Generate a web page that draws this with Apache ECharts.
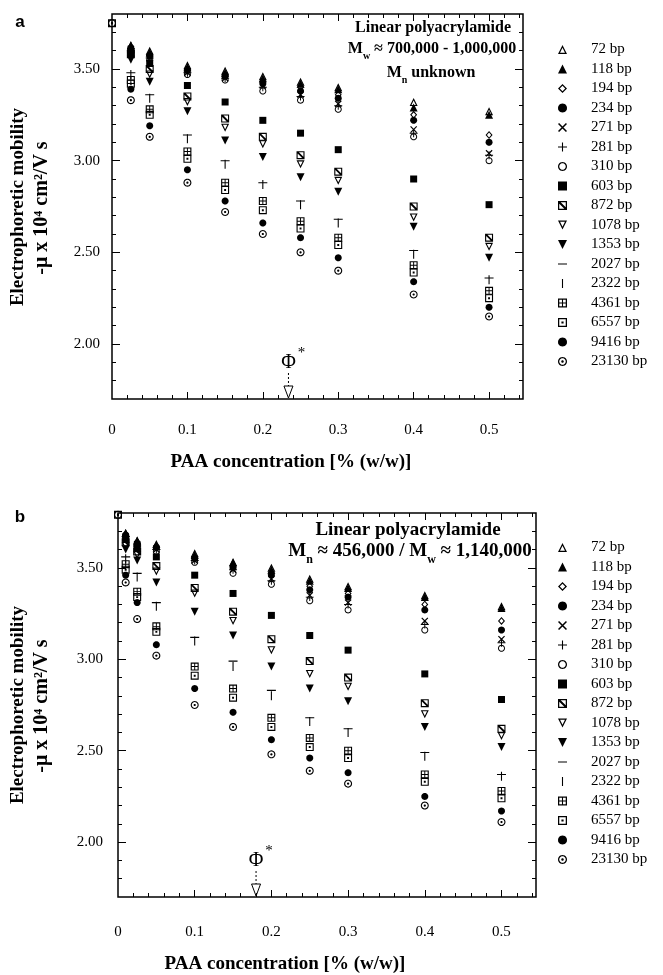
<!DOCTYPE html>
<html><head><meta charset="utf-8">
<script src="https://cdn.jsdelivr.net/npm/echarts@6/dist/echarts.min.js"></script>
<style>html,body{margin:0;padding:0;background:#fff}#c{width:663px;height:975px}</style>
</head><body><div id="c"></div>
<script>
// ---------- DATA ----------
const sizes = ['72 bp','118 bp','194 bp','234 bp','271 bp','281 bp','310 bp','603 bp','872 bp','1078 bp','1353 bp','2027 bp','2322 bp','4361 bp','6557 bp','9416 bp','23130 bp'];
// panel a: PAA concentration (% w/w); null = no visible point
const xA = [0, 0.025, 0.05, 0.1, 0.15, 0.2, 0.25, 0.3, 0.4, 0.5];
const a72    = [null, 3.63, 3.60, 3.52, 3.49, 3.46, 3.43, 3.40, 3.32, 3.27];
const a118   = [null, 3.63, 3.59, 3.51, 3.48, 3.45, 3.42, 3.39, 3.29, 3.25];
const a194   = [null, 3.62, 3.58, 3.50, 3.47, 3.43, 3.40, 3.36, 3.25, 3.14];
const a234   = [null, 3.61, 3.57, 3.49, 3.46, 3.42, 3.38, 3.34, 3.22, 3.10];
const a271   = [null, 3.61, 3.56, 3.48, 3.45, 3.41, 3.36, 3.31, 3.17, 3.04];
const a281   = [null, 3.60, 3.56, 3.48, 3.45, 3.40, 3.35, 3.30, 3.15, 3.03];
const a310   = [null, 3.60, 3.55, 3.47, 3.44, 3.38, 3.33, 3.28, 3.13, 3.00];
const a603   = [null, 3.59, 3.53, 3.41, 3.32, 3.22, 3.15, 3.06, 2.90, 2.76];
const a872   = [null, 3.58, 3.50, 3.35, 3.23, 3.13, 3.03, 2.94, 2.75, 2.58];
const a1078  = [null, 3.57, 3.47, 3.32, 3.18, 3.09, 2.98, 2.89, 2.69, 2.53];
const a1353  = [null, 3.55, 3.43, 3.27, 3.11, 3.02, 2.91, 2.83, 2.64, 2.47];
const a2027  = [null, 3.48, 3.36, 3.14, 3.00, 2.88, 2.78, 2.68, 2.51, 2.36];
const a2322  = [null, 3.47, 3.34, 3.12, 2.98, 2.87, 2.76, 2.66, 2.49, 2.35];
const a4361  = [null, 3.44, 3.28, 3.05, 2.88, 2.78, 2.67, 2.58, 2.43, 2.29];
const a6557  = [3.75, 3.42, 3.25, 3.01, 2.84, 2.73, 2.63, 2.54, 2.39, 2.25];
const a9416  = [null, 3.39, 3.19, 2.95, 2.78, 2.66, 2.58, 2.47, 2.34, 2.20];
const a23130 = [3.75, 3.33, 3.13, 2.88, 2.72, 2.60, 2.50, 2.40, 2.27, 2.15];
// panel b
const xB = [0, 0.01, 0.025, 0.05, 0.1, 0.15, 0.2, 0.25, 0.3, 0.4, 0.5];
const b72    = [null, 3.69, 3.65, 3.63, 3.58, 3.53, 3.50, 3.44, 3.40, 3.35, 3.29];
const b118   = [null, 3.69, 3.65, 3.62, 3.57, 3.53, 3.49, 3.43, 3.39, 3.34, 3.28];
const b194   = [null, 3.68, 3.64, 3.62, 3.56, 3.51, 3.47, 3.40, 3.36, 3.30, 3.21];
const b234   = [null, 3.68, 3.63, 3.61, 3.55, 3.50, 3.46, 3.38, 3.34, 3.27, 3.16];
const b271   = [null, 3.67, 3.63, 3.60, 3.54, 3.49, 3.44, 3.35, 3.31, 3.21, 3.11];
const b281   = [null, 3.67, 3.62, 3.60, 3.54, 3.49, 3.43, 3.34, 3.30, 3.19, 3.09];
const b310   = [null, 3.67, 3.62, 3.59, 3.53, 3.47, 3.41, 3.32, 3.27, 3.16, 3.06];
const b603   = [null, 3.66, 3.61, 3.56, 3.46, 3.36, 3.24, 3.13, 3.05, 2.92, 2.78];
const b872   = [null, 3.64, 3.59, 3.51, 3.39, 3.26, 3.11, 2.99, 2.90, 2.76, 2.62];
const b1078  = [null, 3.62, 3.57, 3.48, 3.36, 3.21, 3.05, 2.92, 2.85, 2.70, 2.58];
const b1353  = [null, 3.60, 3.54, 3.42, 3.26, 3.13, 2.96, 2.84, 2.77, 2.63, 2.52];
const b2027  = [null, 3.56, 3.47, 3.31, 3.12, 2.99, 2.83, 2.68, 2.62, 2.49, 2.37];
const b2322  = [null, 3.55, 3.45, 3.29, 3.10, 2.96, 2.80, 2.66, 2.60, 2.47, 2.36];
const b4361  = [null, 3.52, 3.37, 3.18, 2.96, 2.84, 2.68, 2.57, 2.50, 2.37, 2.28];
const b6557  = [3.79, 3.49, 3.34, 3.15, 2.91, 2.79, 2.63, 2.52, 2.46, 2.33, 2.24];
const b9416  = [null, 3.46, 3.31, 3.08, 2.84, 2.71, 2.56, 2.46, 2.38, 2.25, 2.17];
const b23130 = [3.79, 3.42, 3.22, 3.02, 2.75, 2.63, 2.48, 2.39, 2.32, 2.20, 2.11];
// axes
const xLabels = [0, 0.1, 0.2, 0.3, 0.4, 0.5];
const yLabels = [2.0, 2.5, 3.0, 3.5];
const yMin = 1.7, yMax = 3.8, xMax = 0.545;
const phiA = 0.234, phiB = 0.18;

// ---------- SYMBOLS ----------
function poly(pts){ return 'M' + pts.map(p => p[0].toFixed(2) + ',' + p[1].toFixed(2)).join(' L') + ' Z '; }
function circ(cx, cy, r, rev){ const n = 24, pts = []; for (let i = 0; i < n; i++){ const a = (rev ? -1 : 1) * i * 2 * Math.PI / n; pts.push([cx + r*Math.cos(a), cy + r*Math.sin(a)]); } return poly(pts); }
function sq(x0, y0, x1, y1, rev){ return rev ? poly([[x0,y0],[x0,y1],[x1,y1],[x1,y0]]) : poly([[x0,y0],[x1,y0],[x1,y1],[x0,y1]]); }
const BOX = 'M0,0 L0.01,0 L0,0.01 Z M10,10 L9.99,10 L10,9.99 Z';
const S = {
  triUpO: poly([[5,0],[10,10],[0,10]]) + poly([[5,3.13],[2.27,8.6],[7.74,8.6]]),
  triUp:  poly([[5,0],[10,10],[0,10]]),
  diaO:   poly([[5,0],[10,5],[5,10],[0,5]]) + poly([[5,1.98],[1.98,5],[5,8.02],[8.02,5]]),
  dot:    circ(5,5,5),
  cross:  poly([[0,1.2],[1.2,0],[10,8.8],[8.8,10]]) + poly([[8.8,0],[10,1.2],[1.2,10],[0,8.8]]),
  plus:   poly([[4.4,0],[5.6,0],[5.6,10],[4.4,10]]) + poly([[0,4.4],[10,4.4],[10,5.6],[0,5.6]]),
  circO:  circ(5,5,5) + circ(5,5,3.6,true),
  sqF:    sq(0,0,10,10),
  sqDiag: sq(0,0,10,10) + sq(1.4,1.4,8.6,8.6,true) + poly([[1.4,1.4],[3,1.4],[8.6,7],[8.6,8.6],[7,8.6],[1.4,3]]),
  triDnO: poly([[0,0],[10,0],[5,10]]) + poly([[2.27,1.4],[5,6.87],[7.74,1.4]]),
  triDn:  poly([[0,0],[10,0],[5,10]]),
  hbar:   poly([[0,4.4],[10,4.4],[10,5.6],[0,5.6]]) + BOX,
  vbar:   poly([[4.4,0],[5.6,0],[5.6,10],[4.4,10]]) + BOX,
  sqGrid: sq(0,0,10,10) + sq(1.4,1.4,4.4,4.4,true) + sq(5.6,1.4,8.6,4.4,true) + sq(1.4,5.6,4.4,8.6,true) + sq(5.6,5.6,8.6,8.6,true),
  sqDot:  sq(0,0,10,10) + sq(1.4,1.4,8.6,8.6,true) + sq(3.8,3.8,6.2,6.2),
  circDot: circ(5,5,5) + circ(5,5,3.6,true) + circ(5,5,1.4)
};
const style = [
  ['triUpO', 8], ['triUp', 8], ['diaO', [7,8]], ['dot', 7], ['cross', 7], ['plus', 8], ['circO', 7],
  ['sqF', 7], ['sqDiag', 8], ['triDnO', 8], ['triDn', 8], ['hbar', 9], ['vbar', 9], ['sqGrid', 8],
  ['sqDot', 8], ['dot', 7], ['circDot', 8]
];
const dataA = [a72,a118,a194,a234,a271,a281,a310,a603,a872,a1078,a1353,a2027,a2322,a4361,a6557,a9416,a23130];
const dataB = [b72,b118,b194,b234,b271,b281,b310,b603,b872,b1078,b1353,b2027,b2322,b4361,b6557,b9416,b23130];

// ---------- CHART ----------
const SERIF = '"Liberation Serif", "Times New Roman", serif';
const grids = [
  {left: 112, top: 14, width: 411, height: 385},
  {left: 118, top: 513, width: 418, height: 384}
];
const xMajor = xLabels.slice(1);
const xMinor = []; for (let k = 1; k * 0.02 < xMax; k++) { if (k % 5) xMinor.push(+(k * 0.02).toFixed(2)); }
const yMinor = []; for (let k = Math.round(yMin*10) + 1; k < Math.round(yMax*10); k++) { if (k % 5) yMinor.push(k / 10); }

function tick(vals, len){ return {show: true, inside: true, length: len, customValues: vals, lineStyle: {color: '#000', width: 1}}; }
const xAxes = [], yAxes = [];
grids.forEach((g, gi) => {
  const cx = {gridIndex: gi, type: 'value', min: 0, max: xMax, axisLine: {show: false, onZero: false}, splitLine: {show: false}};
  const cy = {gridIndex: gi, type: 'value', min: yMin, max: yMax, axisLine: {show: false, onZero: false}, splitLine: {show: false}};
  xAxes.push(
    Object.assign({}, cx, {position: 'bottom', axisTick: tick(xMajor, 7),
      axisLabel: {show: true, customValues: xLabels, formatter: v => String(+(+v).toFixed(2)), margin: gi ? 28 : 24, color: '#000', fontFamily: SERIF, fontSize: 15}}),
    Object.assign({}, cx, {position: 'bottom', axisTick: tick(xMinor, 4), axisLabel: {show: false}}),
    Object.assign({}, cx, {position: 'top', axisTick: tick(xMajor, 7), axisLabel: {show: false}}),
    Object.assign({}, cx, {position: 'top', axisTick: tick(xMinor, 4), axisLabel: {show: false}})
  );
  yAxes.push(
    Object.assign({}, cy, {position: 'left', axisTick: tick(yLabels, 8),
      axisLabel: {show: true, customValues: yLabels, formatter: v => (+v).toFixed(2), margin: gi ? 15 : 12, color: '#000', fontFamily: SERIF, fontSize: 15}}),
    Object.assign({}, cy, {position: 'left', axisTick: tick(yMinor, 4), axisLabel: {show: false}}),
    Object.assign({}, cy, {position: 'right', axisTick: tick(yLabels, 8), axisLabel: {show: false}}),
    Object.assign({}, cy, {position: 'right', axisTick: tick(yMinor, 4), axisLabel: {show: false}})
  );
});

const series = [];
[[xA, dataA, 0], [xB, dataB, 1]].forEach(([xs, ds, gi]) => {
  sizes.forEach((name, i) => {
    series.push({
      type: 'scatter', name: name, xAxisIndex: gi * 4, yAxisIndex: gi * 4,
      data: xs.map((x, j) => ds[i][j] == null ? null : [x, ds[i][j]]).filter(d => d),
      symbol: 'path://' + S[style[i][0]], symbolSize: style[i][1],
      itemStyle: {color: '#000', opacity: 1}, clip: false, silent: true,
      emphasis: {disabled: true}
    });
  });
});

const legendCommon = {
  orient: 'vertical', left: 558, itemWidth: 9, itemHeight: 9, itemGap: 4.5, padding: 0,
  selectedMode: false, data: sizes, inactiveColor: '#000',
  textStyle: {fontFamily: SERIF, fontSize: 15, lineHeight: 14, color: '#000', padding: [0, 0, 0, 19]}
};

const chart = echarts.init(document.getElementById('c'), null, {renderer: 'canvas'});
chart.setOption({
  animation: false,
  backgroundColor: '#fff',
  grid: grids.map(g => Object.assign({show: true, borderColor: '#000', borderWidth: 1.5, backgroundColor: 'transparent', containLabel: false}, g)),
  xAxis: xAxes, yAxis: yAxes, series: series,
  legend: [Object.assign({top: 42}, legendCommon), Object.assign({top: 540}, legendCommon)],
  tooltip: {show: false}
});

// ---------- ANNOTATIONS ----------
function txt(x, y, text, font, extra){
  return Object.assign({type: 'text', x: x, y: y, silent: true, style: {text: text, font: font, fill: '#000', align: 'center', textAlign: 'center', verticalAlign: 'middle', textVerticalAlign: 'middle'}}, extra || {});
}
function richTxt(x, y, text, size){
  return {type: 'text', x: x, y: y, silent: true, style: {
    text: text, fill: '#000', align: 'center', textAlign: 'center', verticalAlign: 'middle', textVerticalAlign: 'middle',
    font: 'bold ' + size + 'px ' + SERIF,
    rich: {
      t: {fontFamily: SERIF, fontWeight: 'bold', fontSize: size, lineHeight: size + 2, verticalAlign: 'top', fill: '#000'},
      s: {fontFamily: SERIF, fontWeight: 'bold', fontSize: Math.round(size * 0.65), lineHeight: Math.round(size * 0.65), verticalAlign: 'top', padding: [Math.round(size * 0.62), 0, 0, 0], fill: '#000'}
    }}};
}
function phiMark(gi, val){
  const p = chart.convertToPixel({gridIndex: gi}, [val, yMin]);
  const px = p[0], py = p[1];
  return [
    txt(px, py - 36, 'Φ', '20px ' + SERIF),
    txt(px + 13, py - 46, '*', '15px ' + SERIF),
    {type: 'line', silent: true, shape: {x1: px, y1: py - 26, x2: px, y2: py - 13}, style: {stroke: '#000', lineWidth: 1, lineDash: [2, 2]}},
    {type: 'polygon', silent: true, shape: {points: [[px - 4.5, py - 13], [px + 4.5, py - 13], [px, py - 1]]}, style: {fill: '#fff', stroke: '#000', lineWidth: 1}}
  ];
}
const titleFont = 'bold 19px ' + SERIF;
const subTitleFont = 'bold 20px ' + SERIF;
const graphics = [
  txt(20, 22, 'a', 'bold 17px "Liberation Sans", Arial, sans-serif'),
  txt(20, 517, 'b', 'bold 17px "Liberation Sans", Arial, sans-serif'),
  txt(18, 207, 'Electrophoretic mobility', titleFont, {rotation: Math.PI / 2}),
  txt(42, 208, '-μ x 10⁴ cm²/V s', subTitleFont, {rotation: Math.PI / 2}),
  txt(18, 705, 'Electrophoretic mobility', titleFont, {rotation: Math.PI / 2}),
  txt(42, 706, '-μ x 10⁴ cm²/V s', subTitleFont, {rotation: Math.PI / 2}),
  txt(291, 462, 'PAA concentration [% (w/w)]', titleFont),
  txt(285, 964, 'PAA concentration [% (w/w)]', titleFont),
  txt(433, 28, 'Linear polyacrylamide', 'bold 16px ' + SERIF),
  richTxt(432, 50, '{t|M}{s|w}{t| ≈ 700,000 - 1,000,000}', 16),
  richTxt(431, 74, '{t|M}{s|n}{t| unknown}', 16),
  txt(408, 530, 'Linear polyacrylamide', 'bold 19px ' + SERIF),
  richTxt(410, 552, '{t|M}{s|n}{t| ≈ 456,000 / M}{s|w}{t| ≈ 1,140,000}', 19)
].concat(phiMark(0, phiA), phiMark(1, phiB));
chart.setOption({graphic: graphics});
</script>
</body></html>
